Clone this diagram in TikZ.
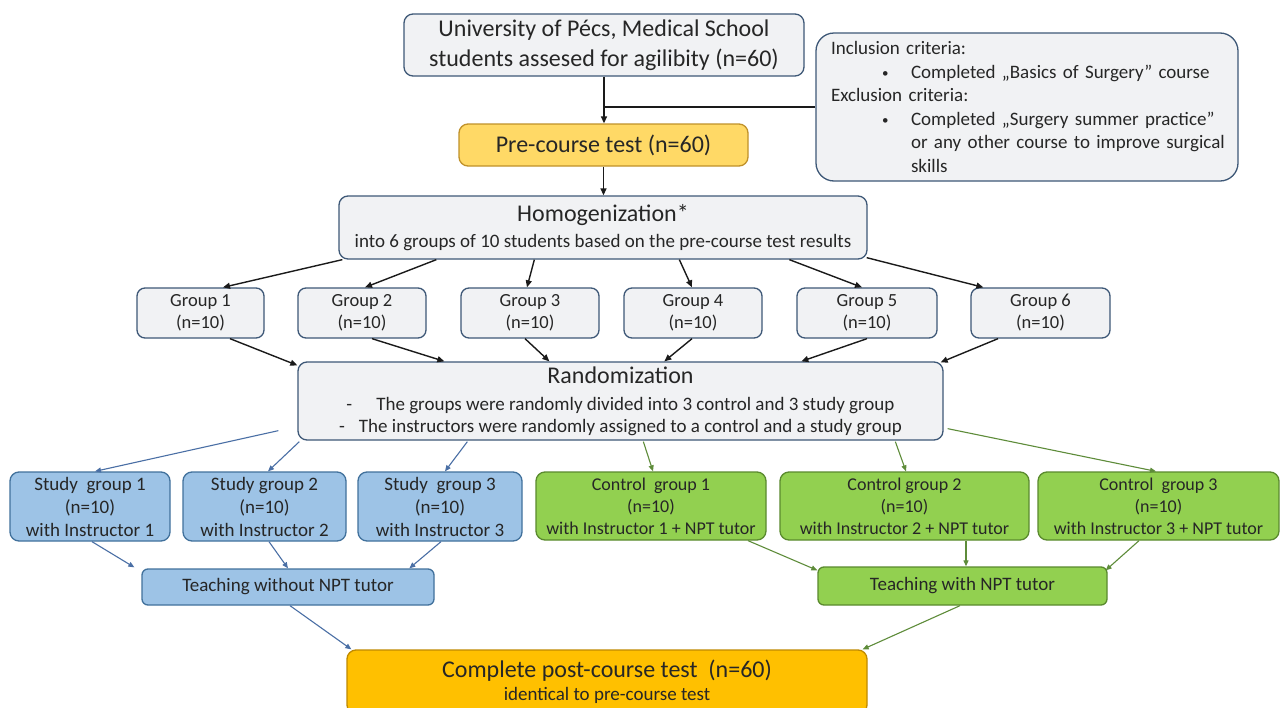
\documentclass[tikz,border=0pt]{standalone}
\usepackage{fontspec}
\setmainfont{Carlito}
\usetikzlibrary{arrows.meta,calc}
\definecolor{txt}{HTML}{262626}
\definecolor{grayfill}{HTML}{F1F2F4}
\definecolor{grayline}{HTML}{3E5877}
\definecolor{prefill}{HTML}{FFD966}
\definecolor{preline}{HTML}{C0912A}
\definecolor{postfill}{HTML}{FFC000}
\definecolor{postline}{HTML}{C08A00}
\definecolor{bluefill}{HTML}{9DC3E6}
\definecolor{blueline}{HTML}{41719C}
\definecolor{bluearrow}{HTML}{4A6FA5}
\definecolor{greenfill}{HTML}{92D050}
\definecolor{greenline}{HTML}{5A8A2E}
\definecolor{greenarrow}{HTML}{5E8C3A}
\definecolor{blackarrow}{HTML}{1A1A1A}
\newcommand{\smbullet}{\raisebox{1pt}{\fontsize{13}{13}\selectfont\textbullet}}
\begin{document}
\begin{tikzpicture}[x=1pt,y=-1pt,
  box/.style={rounded corners=9pt, draw, line width=1.3pt, inner sep=2pt, align=center, text=txt},
  gbox/.style={box, fill=grayfill, draw=grayline},
  prebox/.style={box, fill=prefill, draw=preline},
  postbox/.style={box, fill=postfill, draw=postline},
  sbox/.style={box, fill=bluefill, draw=blueline},
  cbox/.style={box, fill=greenfill, draw=greenline},
  bigtext/.style={font=\fontsize{24}{30}\selectfont},
  smalltext/.style={font=\fontsize{19}{23}\selectfont},
  blk/.style={draw=blackarrow, line width=1.4pt, -{Triangle[length=7pt,width=6pt]}},
  blu/.style={draw=bluearrow, line width=1.1pt, -{Triangle[length=6pt,width=5pt]}},
  grn/.style={draw=greenarrow, line width=1.1pt, -{Triangle[length=6pt,width=5pt]}},
]
\clip (0,0) rectangle (1280,707);
\fill[white] (0,0) rectangle (1280,707);

% top row
\node[gbox, bigtext, minimum width=400pt, minimum height=62pt] (top) at (604,45)
  {University of Pécs, Medical School\\students assesed for agilibity (n=60)};
\node[gbox, rounded corners=18pt, minimum width=422pt, minimum height=148pt,
  text width=392pt, align=left, font=\fontsize{19}{23.5}\selectfont] (crit) at (1027,107)
  {\mbox{Inclusion criteria:}\\
   \mbox{\makebox[80pt][l]{\hspace*{51pt}\smbullet}Completed „Basics of Surgery” course}\\
   \mbox{Exclusion criteria:}\\
   \mbox{\makebox[80pt][l]{\hspace*{51pt}\smbullet}Completed „Surgery summer practice”}\\
   \mbox{\hspace*{80pt}or any other course to improve surgical}\\
   \mbox{\hspace*{80pt}skills}};
\node[prebox, bigtext, minimum width=289pt, minimum height=42pt] (pre) at (603.5,145)
  {Pre-course test (n=60)};

% homogenization
\node[gbox, smalltext, minimum width=528pt, minimum height=63pt] (homog) at (603,227.5)
  {{\fontsize{24}{24}\selectfont Homogenization*}\\[3pt]
   into 6 groups of 10 students based on the pre-course test results};

% groups
\foreach \n/\x/\w in {1/200.5/127, 2/362/128, 3/530/138, 4/693/138, 5/867/140, 6/1040.5/139}{
  \node[gbox, rounded corners=8pt, font=\fontsize{18.5}{22}\selectfont,
    minimum width=\w pt, minimum height=50pt] (g\n) at (\x,313) {Group \n\\(n=10)};
}

% randomization
\node[gbox, smalltext, minimum width=645pt, minimum height=78pt] (rand) at (620.5,401)
  {{\fontsize{24}{24}\selectfont Randomization}\\[4pt]
   -\hspace{24pt}The groups were randomly divided into 3 control and 3 study group\\[-1pt]
   -\hspace{14pt}The instructors were randomly assigned to a control and a study group};

% study groups
\node[sbox, smalltext, minimum width=160pt, minimum height=69pt] (sg1) at (90,506.5)
  {Study\ \ group 1\\(n=10)\\with Instructor 1};
\node[sbox, smalltext, minimum width=163pt, minimum height=69pt] (sg2) at (264.5,506.5)
  {Study group 2\\(n=10)\\with Instructor 2};
\node[sbox, smalltext, minimum width=164pt, minimum height=69pt] (sg3) at (440,506.5)
  {Study\ \ group 3\\(n=10)\\with Instructor 3};

% control groups
\node[cbox, font=\fontsize{18}{22}\selectfont, minimum width=230pt, minimum height=68pt] (cg1) at (651,506)
  {Control\ \ group 1\\(n=10)\\with Instructor 1 + NPT tutor};
\node[cbox, font=\fontsize{18}{22}\selectfont, minimum width=249pt, minimum height=68pt] (cg2) at (904.5,506)
  {Control group 2\\(n=10)\\with Instructor 2 + NPT tutor};
\node[cbox, font=\fontsize{18}{22}\selectfont, minimum width=241pt, minimum height=68pt] (cg3) at (1158.5,506)
  {Control\ \ group 3\\(n=10)\\with Instructor 3 + NPT tutor};

% teaching
\node[sbox, smalltext, rounded corners=6pt, minimum width=292pt, minimum height=36pt] (tw) at (288,587)
  {Teaching without NPT tutor};
\node[cbox, smalltext, rounded corners=6pt, minimum width=289pt, minimum height=38pt] (tn) at (962.5,586)
  {Teaching with NPT tutor};

% post-course
\node[postbox, smalltext, minimum width=520pt, minimum height=64pt] (post) at (607,682)
  {{\fontsize{24}{24}\selectfont Complete post-course test\ \ (n=60)}\\[0pt]
   identical to pre-course test};

% top connectors
\coordinate (branch) at (top.south |- crit.west);
\draw[blk] (top.south) -- (top.south |- pre.north);
\draw[draw=blackarrow, line width=1.4pt] (branch) -- (crit.west);
\draw[blk] (pre.south) -- (pre.south |- homog.north);

% homog -> groups
\draw[blk] ($(homog.south west)+(4,0)$) -- ($(g1.north)+(22.5,0)$);
\draw[blk] ($(homog.south west)+(98,0)$) -- ($(g2.north)+(3,0)$);
\draw[blk] ($(homog.south west)+(196,0)$) -- ($(g3.north)+(-3,0)$);
\draw[blk] ($(homog.south west)+(341,0)$) -- ($(g4.north)+(-1,0)$);
\draw[blk] ($(homog.south west)+(451,0)$) -- ($(g5.north)+(-5,0)$);
\draw[blk] ($(homog.south east)+(-1,-2)$) -- ($(g6.north west)+(13,0)$);

% groups -> rand
\draw[blk] ($(g1.south)+(29.5,0)$) -- ($(rand.north west)+(0,4)$);
\draw[blk] ($(g2.south)+(10,0)$) -- ($(rand.north west)+(147,0)$);
\draw[blk] ($(g3.south)+(-5,0)$) -- ($(rand.north west)+(252,0)$);
\draw[blk] ($(g4.south)+(-1,0)$) -- ($(rand.north west)+(367,0)$);
\draw[blk] ($(g5.south)+(0,0)$) -- ($(rand.north west)+(504,0)$);
\draw[blk] ($(g6.south)+(-42.5,0)$) -- ($(rand.north east)+(-3,1)$);

% rand -> study groups
\draw[blu] ($(rand.south west)+(-19,-10)$) -- ($(sg1.north)+(5,0)$);
\draw[blu] ($(rand.south west)+(2,1)$) -- ($(sg2.north)+(3.5,0)$);
\draw[blu] ($(rand.south west)+(170,1)$) -- ($(sg3.north)+(5,0)$);

% rand -> control groups
\draw[grn] ($(rand.south west)+(346,1)$) -- ($(cg1.north)+(2,0)$);
\draw[grn] ($(rand.south west)+(598,1)$) -- ($(cg2.north)+(1.5,0)$);
\draw[grn] ($(rand.south east)+(4,-12)$) -- ($(cg3.north)+(-2.5,0)$);

% study -> teaching
\draw[blu] ($(sg1.south)+(2,0)$) -- ($(tw.north west)+(-7,-1)$);
\draw[blu] ($(sg2.south)+(4.5,0)$) -- (tw.north);
\draw[blu] ($(sg3.south)+(1,0)$) -- ($(tw.north west)+(268,0)$);

% control -> teaching
\draw[grn] ($(cg1.south)+(97,0)$) -- ($(tn.north west)+(0,4)$);
\draw[grn] ($(cg2.south)+(61.5,0)$) -- ($(tn.north)+(3.5,0)$);
\draw[grn] ($(cg3.south)+(-19.5,0)$) -- ($(tn.north east)+(-2,4)$);

% teaching -> post
\draw[blu] ($(tw.south)+(2,0)$) -- ($(post.north west)+(5,0)$);
\draw[grn] ($(tn.south)+(-2.5,0)$) -- ($(post.north east)+(-5,0)$);
\end{tikzpicture}
\end{document}
